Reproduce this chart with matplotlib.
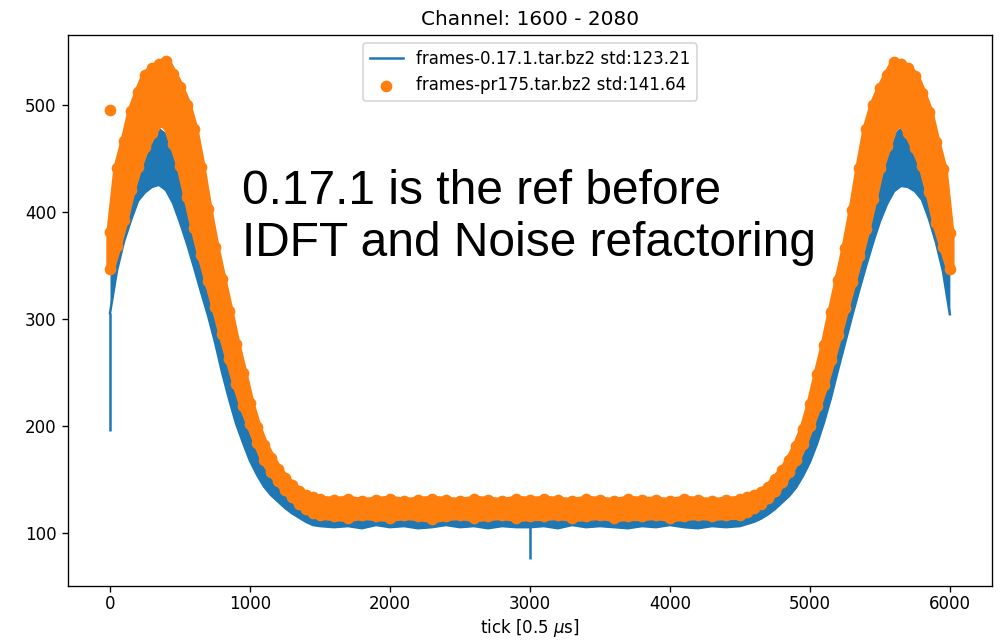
import matplotlib
matplotlib.use("Agg")
import matplotlib.pyplot as plt

# sample ticks: fine steps on the humps, coarser on the flat part
ticks = (list(range(0, 1501, 50)) + list(range(1600, 4401, 100))
         + list(range(4500, 5951, 50)) + [5999])

# frames-0.17.1 : lower / upper edge of the noise band
blue_lo = [305, 345, 372, 392, 410, 418, 423, 425, 420, 408, 390, 370, 348, 325, 303, 278,
           250, 225, 202, 184, 167, 154, 143, 135, 129, 123, 118, 114, 110, 107, 106,
           105, 106, 104, 107, 105, 106, 104, 105, 107, 105, 106, 104, 106, 105, 105,
           106, 104, 107, 105, 106, 105, 104, 106, 105, 107, 105, 104, 106, 105,
           106, 108, 110, 113, 117, 122, 128, 134, 142, 153, 166, 183, 203, 226, 252,
           277, 302, 326, 349, 371, 391, 407, 419, 424, 423, 419, 411, 393, 371, 344, 304]
blue_hi = [345, 375, 400, 428, 448, 465, 474, 477, 472, 462, 442, 412, 385, 360, 336, 312,
           288, 262, 238, 217, 200, 183, 168, 158, 150, 143, 136, 131, 127, 124, 122,
           121, 120, 122, 119, 121, 120, 122, 121, 119, 121, 120, 122, 120, 121, 121,
           119, 122, 120, 121, 120, 122, 121, 119, 121, 120, 122, 121, 120, 121,
           122, 124, 127, 130, 136, 142, 149, 157, 167, 182, 199, 216, 237, 261, 287,
           311, 335, 359, 384, 411, 441, 461, 471, 477, 474, 465, 448, 429, 401, 376, 343]

# frames-pr175 : marker centres at lower / upper edge of the band
orange_lo = [346, 368, 392, 420, 442, 460, 473, 484, 482, 463, 443, 414, 385, 359, 335, 311,
             286, 262, 239, 218, 201, 184, 168, 157, 148, 140, 133, 127, 122, 118, 116,
             115, 114, 116, 115, 114, 116, 115, 113, 115, 116, 114, 115, 116, 114, 115,
             115, 116, 114, 115, 116, 114, 115, 115, 116, 114, 115, 116, 115, 116,
             116, 119, 123, 127, 132, 139, 147, 157, 168, 183, 200, 218, 238, 261, 285,
             310, 334, 358, 384, 412, 441, 461, 481, 484, 473, 459, 443, 418, 389, 367, 346]
orange_hi = [381, 441, 466, 494, 512, 528, 534, 538, 541, 529, 516, 500, 477, 442, 402, 367,
             337, 307, 276, 249, 221, 199, 182, 170, 159, 151, 144, 139, 135, 133, 131,
             130, 131, 129, 130, 131, 129, 130, 131, 130, 129, 131, 130, 129, 131, 130,
             131, 130, 129, 131, 130, 129, 131, 130, 130, 129, 131, 130, 129, 130,
             131, 133, 135, 138, 143, 150, 158, 168, 181, 197, 220, 248, 275, 306, 336,
             366, 401, 441, 477, 500, 515, 528, 540, 538, 534, 527, 511, 493, 465, 440, 380]

# single-sample outliers
spike_ticks = [0, 3000]
spike_vals = [195, 75]
spike_base = [305, 105]
outlier_tick = [0]
outlier_val = [495]

fig = plt.figure(figsize=(1000 / 120, 641 / 120), dpi=120)
ax = fig.add_axes([0.068, 0.0858, 0.924, 0.8596])

ax.fill_between(ticks, blue_lo, blue_hi, color='C0', lw=0, zorder=2)
ax.plot(ticks, blue_hi, color='C0', lw=1.5, zorder=2,
        label='frames-0.17.1.tar.bz2 std:123.21')
ax.plot(ticks, blue_lo, color='C0', lw=1.5, zorder=2)
ax.vlines(spike_ticks, spike_vals, spike_base, color='C0', lw=1.5, zorder=2)

ax.fill_between(ticks, orange_lo, orange_hi, facecolor='C1', edgecolor='C1',
                lw=5, joinstyle='round', zorder=3)
ax.scatter(ticks, orange_hi, color='C1', zorder=3,
           label='frames-pr175.tar.bz2 std:141.64')
ax.scatter(ticks, orange_lo, color='C1', zorder=3)
ax.scatter(outlier_tick, outlier_val, color='C1', zorder=3)

ax.set_xlim(-300, 6300)
ax.set_ylim(50, 565)
ax.tick_params(axis='x', pad=2)
ax.set_title('Channel: 1600 - 2080')
ax.set_xlabel(r'tick [0.5 $\mu$s]', labelpad=2)
ax.legend(loc='upper center')

ax.text(940, 440, '0.17.1 is the ref before\nIDFT and Noise refactoring',
        fontsize=28.7, family='Liberation Sans', va='top', ha='left', zorder=5)

fig.savefig('out.png', dpi=120)
